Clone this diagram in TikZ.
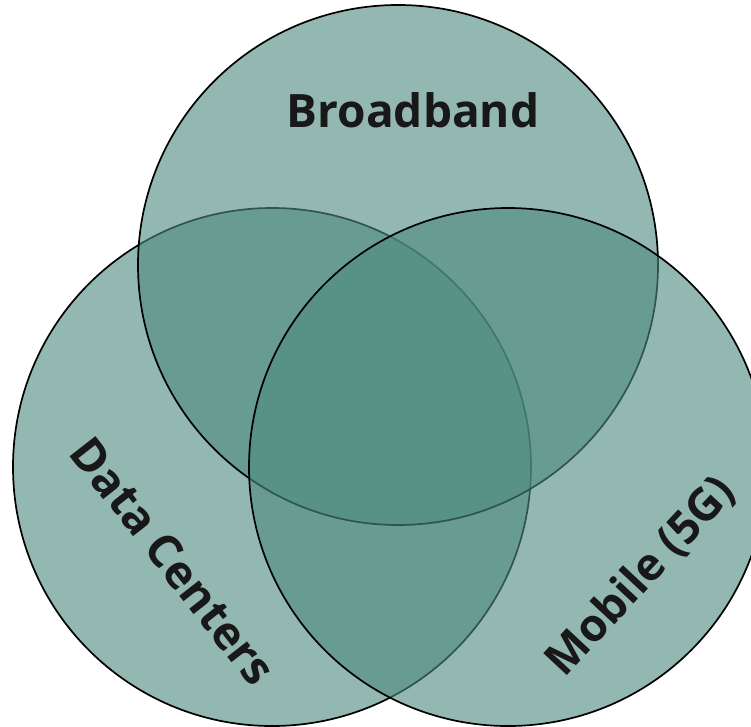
\documentclass[tikz,border=0pt]{standalone}
\usepackage{fontspec}
\setmainfont{Open Sans}
\definecolor{venn}{RGB}{78,139,127}
\definecolor{ink}{RGB}{24,24,24}
\tikzset{
  set/.style={fill=venn, fill opacity=0.61, draw=black, line width=1.7pt},
  lab/.style={text=ink, font=\fontsize{46}{54}\selectfont\bfseries, inner sep=0pt}
}
\begin{document}
\begin{tikzpicture}[x=1pt,y=-1pt]
\useasboundingbox (0,0) rectangle (751,726);
\clip (0,0) rectangle (751,726);
\draw[set] (272,467) circle[radius=259];
\draw[set] (398,265) circle[radius=260];
\draw[set] (508,467) circle[radius=259];
\node[lab] (bb) at (413,110) {Broadband};
\node[lab, rotate=-52] (dc) at (173,561) {Data Centers};
\node[lab, rotate=47, font=\fontsize{45}{54}\selectfont\bfseries] (mb) at (641,577) {Mobile (5G)};
\end{tikzpicture}
\end{document}
